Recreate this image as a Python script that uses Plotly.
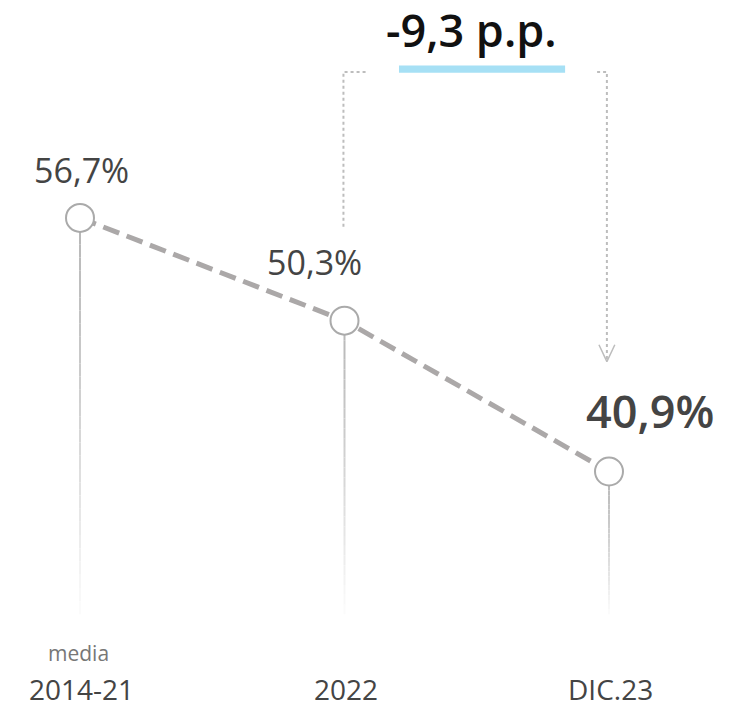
import plotly.graph_objects as go

# data
categories = ["2014-21", "2022", "DIC.23"]
values = [56.7, 50.3, 40.9]
value_labels = ["56,7%", "50,3%", "40,9%"]
change_label = "-9,3 p.p."
sub_label = "media"

FONT = "Open Sans"
TEXT = "#444444"
GREY = "#aba8a8"

# the page body adds an 8px margin, so the figure is a bit smaller than the window
W, H = 735, 702
y_top, y_bot = 69.78, 26.04
x_lo, x_hi = -0.2722, 2.5066
stem_floor = 32.0

fig = go.Figure()

# fading stems, drawn as a stack of short segments
n_seg = 30
for i, v in enumerate(values):
    for k in range(n_seg):
        t0 = k / n_seg
        t1 = (k + 1) / n_seg
        ya = v - (v - stem_floor) * t0
        yb = v - (v - stem_floor) * t1
        c = int(185 + (255 - 185) * (t0 ** 1.3))
        fig.add_trace(go.Scatter(
            x=[i, i], y=[ya, yb], mode="lines",
            line=dict(color=f"rgb({c},{c},{c})", width=2),
            hoverinfo="skip", showlegend=False))

# dashed connecting line with open circles
fig.add_trace(go.Scatter(
    x=list(range(len(values))), y=values, mode="lines+markers",
    line=dict(color=GREY, width=5, dash="17px,8px"),
    marker=dict(size=28, color="white", line=dict(color="#aaaaaa", width=2)),
    hoverinfo="skip", showlegend=False))

# dotted bracket from 2022 to DIC.23
bracket_y = 65.8
dot = dict(color="#bdbdbd", width=2, dash="dot")
fig.add_trace(go.Scatter(
    x=[1 - 0.004, 1 - 0.004, 1 + 0.09], y=[values[1] + 5.85, bracket_y, bracket_y],
    mode="lines", line=dot, hoverinfo="skip", showlegend=False))
fig.add_trace(go.Scatter(
    x=[2 - 0.045, 2 - 0.008, 2 - 0.008], y=[bracket_y, bracket_y, values[2] + 6.9],
    mode="lines", line=dot, hoverinfo="skip", showlegend=False))
fig.add_trace(go.Scatter(
    x=[2 - 0.038, 2 - 0.008, 2 + 0.022], y=[values[2] + 7.9, values[2] + 6.85, values[2] + 7.9],
    mode="lines", line=dict(color="#bdbdbd", width=1.5), hoverinfo="skip", showlegend=False))

shapes = [dict(type="rect", xref="x", yref="y", x0=1.206, x1=1.834,
               y0=bracket_y - 0.05, y1=bracket_y + 0.4,
               fillcolor="#a6e0f5", line=dict(width=0), layer="above")]

annotations = [
    dict(x=1.482, y=1 - 21 / H, xref="x", yref="paper", text=change_label,
         showarrow=False, yanchor="middle",
         font=dict(family=FONT, size=45, color="#111111", weight=600)),
    dict(x=0, y=values[0], xref="x", yref="y", text=value_labels[0], showarrow=False,
         yshift=48, xshift=1, font=dict(family=FONT, size=34, color=TEXT)),
    dict(x=1, y=values[1], xref="x", yref="y", text=value_labels[1], showarrow=False,
         yshift=59, xshift=-30, font=dict(family=FONT, size=34, color=TEXT)),
    dict(x=2, y=values[2], xref="x", yref="y", text=value_labels[2], showarrow=False,
         yshift=61, xshift=41, font=dict(family=FONT, size=45, color=TEXT, weight=600)),
    dict(x=0, y=1 - 645 / H, xref="x", yref="paper", text=sub_label, showarrow=False,
         yanchor="middle", xshift=-2, font=dict(family=FONT, size=21, color="#777777")),
]
for i, c in enumerate(categories):
    annotations.append(dict(x=i, y=0, xref="x", yref="paper", text=c, showarrow=False,
                            yanchor="bottom", xshift=1,
                            font=dict(family=FONT, size=28, color=TEXT)))

fig.update_layout(
    width=W, height=H,
    margin=dict(l=0, r=0, t=0, b=0),
    paper_bgcolor="white", plot_bgcolor="white",
    xaxis=dict(range=[x_lo, x_hi], visible=False, fixedrange=True),
    yaxis=dict(range=[y_bot, y_top], visible=False, fixedrange=True),
    shapes=shapes, annotations=annotations,
    showlegend=False,
)

fig.write_html("out.html")
